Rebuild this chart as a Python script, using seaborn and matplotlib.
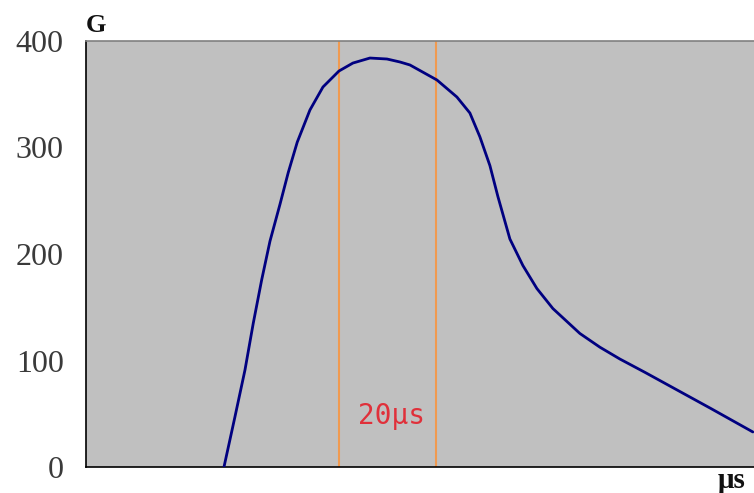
import numpy as np
import pandas as pd
import matplotlib
matplotlib.use("Agg")
import matplotlib.pyplot as plt
import seaborn as sns

# curve (time in us, G value)
time_us = [28.38, 30.64, 32.70, 34.40, 36.13, 37.84, 39.89, 41.60, 43.45,
           46.06, 48.74, 52.03, 54.90, 58.40, 61.90, 64.57, 66.63, 72.18,
           76.29, 78.96, 81.02, 83.08, 84.72, 87.19, 89.86, 92.74, 96.03,
           101.58, 105.70, 109.81, 115.0, 120.71, 128.5, 137.16]
g_value = [0, 47.2, 91.1, 134.9, 175.6, 212.0, 246.5, 276.5, 305.0,
           335.2, 356.8, 371.8, 379.3, 384.0, 383.1, 380.3, 377.5, 363.4,
           347.4, 332.4, 310.0, 283.0, 254.0, 214.1, 189.2, 167.6, 148.8,
           125.4, 112.5, 101.4, 88.8, 74.5, 55.0, 32.9]
marker_lines = [52, 72]
y_ticks = [0, 100, 200, 300, 400]

df = pd.DataFrame({"t": time_us, "g": g_value})

sns.set_theme(style="white")
plt.rcParams["font.family"] = ["Liberation Serif", "DejaVu Serif"]

fig = plt.figure(figsize=(7.54, 4.93), dpi=100)
ax = fig.add_axes([86 / 754, 26 / 493, 668 / 754, 426 / 493])
ax.set_facecolor("#c0c0c0")

for x in marker_lines:
    ax.axvline(x, color="#f09a50", linewidth=1.5, zorder=1)

sns.lineplot(data=df, x="t", y="g", color="#000080", linewidth=2.0, ax=ax, zorder=3)

ax.set_xlim(0, 137.4)
ax.set_ylim(0, 400)
ax.set_xticks([])
ax.set_yticks(y_ticks)
ax.set_yticklabels([str(v) for v in y_ticks], fontsize=23, color="#3a3a3a")
ax.tick_params(axis="y", length=0, pad=16)
ax.set_xlabel("")
ax.set_ylabel("")

for side in ["left", "bottom"]:
    ax.spines[side].set_color("black")
    ax.spines[side].set_linewidth(1.2)
ax.spines["top"].set_color("#808080")
ax.spines["top"].set_linewidth(1.2)
ax.spines["right"].set_visible(False)

fig.text(86 / 754, 1 - 25 / 493, "G", fontsize=19, fontweight="bold",
         ha="left", va="center", color="#111111")
fig.text(746 / 754, 1 - 481 / 493, "μs", fontsize=21, fontweight="bold",
         ha="right", va="center", color="#111111")
ax.text(62.8, 48, "20μs", fontsize=20, color="#e0303a", ha="center",
        va="center", family=["DejaVu Sans Mono"])

fig.savefig("out.png", dpi=100)
